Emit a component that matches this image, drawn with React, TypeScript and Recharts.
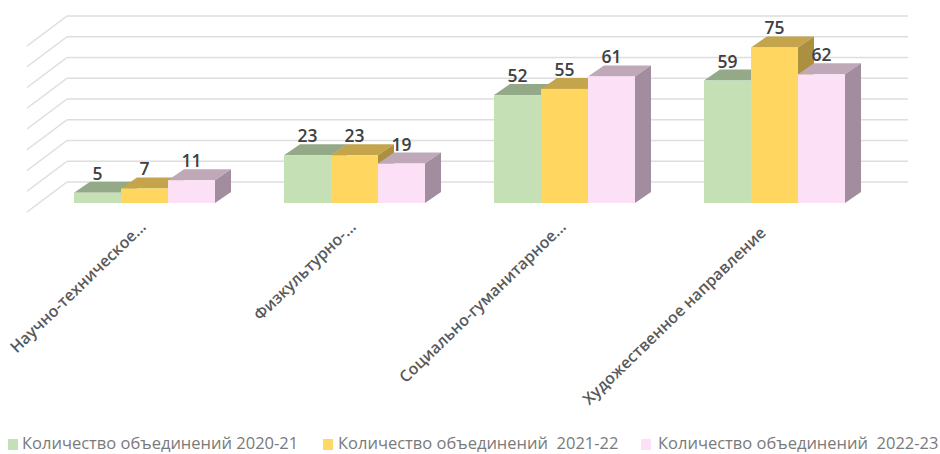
import React from 'react';
import { BarChart, Bar, XAxis, YAxis, CartesianGrid, Legend, LabelList } from 'recharts';

const categories = [
  'Научно-техническое...',
  'Физкультурно-...',
  'Социально-гуманитарное...',
  'Художественное направление',
];
const counts2021 = [5, 23, 52, 59];
const counts2122 = [7, 23, 55, 75];
const counts2223 = [11, 19, 61, 62];
const yTicks = [0, 10, 20, 30, 40, 50, 60, 70, 80];
const yMax = 80;

const seriesNames = [
  'Количество объединений 2020-21',
  'Количество объединений  2021-22',
  'Количество объединений  2022-23',
];

const data = categories.map((name, i) => ({
  name,
  a: counts2021[i],
  b: counts2122[i],
  c: counts2223[i],
}));

const DEPTH_X = 16;
const DEPTH_Y = 11;

// fake 3D box: front face plus top and side faces
const box = (front: string, top: string, side: string) => (props: any) => {
  const { x, y, width, height } = props;
  const r = x + width;
  const b = y + height;
  return (
    <g>
      <polygon
        points={`${x},${y} ${x + DEPTH_X},${y - DEPTH_Y} ${r + DEPTH_X},${y - DEPTH_Y} ${r},${y}`}
        fill={top}
      />
      <polygon
        points={`${r},${y} ${r + DEPTH_X},${y - DEPTH_Y} ${r + DEPTH_X},${b - DEPTH_Y} ${r},${b}`}
        fill={side}
      />
      <rect x={x} y={y} width={width} height={height} fill={front} />
    </g>
  );
};

// back wall line and the slanted line on the left wall
const gridLine = (props: any) => {
  const { x1, x2, y1 } = props;
  return (
    <g key={props.key}>
      <line x1={x1 + 28} y1={y1 - 21} x2={x2 + 29} y2={y1 - 21} stroke="#DEDEDE" strokeWidth={1.5} />
      <line x1={x1 + 28} y1={y1 - 21} x2={x1 - 12} y2={y1 + 9} stroke="#DEDEDE" strokeWidth={1.5} />
    </g>
  );
};

// every tick gets a grid line, the default generator thins them out
const gridCoordinates = ({ offset }: any) =>
  yTicks.map((v) => offset.top + offset.height * (1 - v / yMax));

const CategoryTick = (props: any) => {
  const { x, payload, index } = props;
  const endX = index === 3 ? x - 7 : x + 3;
  const endY = index === 3 ? 234 : 228;
  return (
    <text
      x={endX}
      y={endY}
      transform={`rotate(-44 ${endX} ${endY})`}
      textAnchor="end"
      fontFamily="Open Sans"
      fontSize={16}
      fontWeight={600}
      fill="#595959"
    >
      {payload.value}
    </text>
  );
};

const legendItems = [
  { color: '#C5E0B4', left: 8, textLeft: 22 },
  { color: '#FFD966', left: 323, textLeft: 338 },
  { color: '#FCE0F6', left: 641, textLeft: 658 },
];

const LegendRow = () => (
  <div style={{ position: 'relative', width: 940, height: 18 }}>
    {legendItems.map((item, i) => (
      <React.Fragment key={i}>
        <div
          style={{
            position: 'absolute',
            left: item.left,
            top: 3,
            width: 10,
            height: 11,
            background: item.color,
          }}
        />
        <div
          style={{
            position: 'absolute',
            left: item.textLeft,
            top: -2.5,
            whiteSpace: 'pre',
            fontFamily: 'Open Sans',
            fontSize: 16.5,
            lineHeight: '18px',
            color: '#7A7A7A',
          }}
        >
          {seriesNames[i]}
        </div>
      </React.Fragment>
    ))}
  </div>
);

const labelProps = {
  position: 'top' as const,
  offset: 13,
  fontFamily: 'Open Sans',
  fontSize: 17.5,
  fontWeight: 600,
  fill: '#404040',
};

export default function App() {
  return (
    <div style={{ position: 'absolute', left: 0, top: 0, width: 940, height: 454, background: '#fff' }}>
      <BarChart
        width={940}
        height={454}
        data={data}
        margin={{ top: 37, right: 61, bottom: 232, left: 39 }}
        barCategoryGap="16.67%"
        barGap={0}
      >
        <CartesianGrid vertical={false} horizontal={gridLine} horizontalCoordinatesGenerator={gridCoordinates} />
        <XAxis
          dataKey="name"
          axisLine={false}
          tickLine={false}
          height={1}
          interval={0}
          tick={<CategoryTick />}
        />
        <YAxis
          domain={[0, yMax]}
          ticks={yTicks}
          interval={0}
          width={0}
          tick={false}
          axisLine={false}
          tickLine={false}
        />
        <Legend content={<LegendRow />} wrapperStyle={{ left: 0, top: 436, width: 940 }} />
        <Bar dataKey="a" name={seriesNames[0]} isAnimationActive={false} shape={box('#C5E0B4', '#94A987', '#94A987')}>
          <LabelList dataKey="a" {...labelProps} />
        </Bar>
        <Bar dataKey="b" name={seriesNames[1]} isAnimationActive={false} shape={box('#FFD65F', '#C4A54C', '#AB9040')}>
          <LabelList dataKey="b" {...labelProps} />
        </Bar>
        <Bar dataKey="c" name={seriesNames[2]} isAnimationActive={false} shape={box('#FCE0F6', '#BFA9B9', '#A18D9D')}>
          <LabelList dataKey="c" {...labelProps} />
        </Bar>
      </BarChart>
    </div>
  );
}
